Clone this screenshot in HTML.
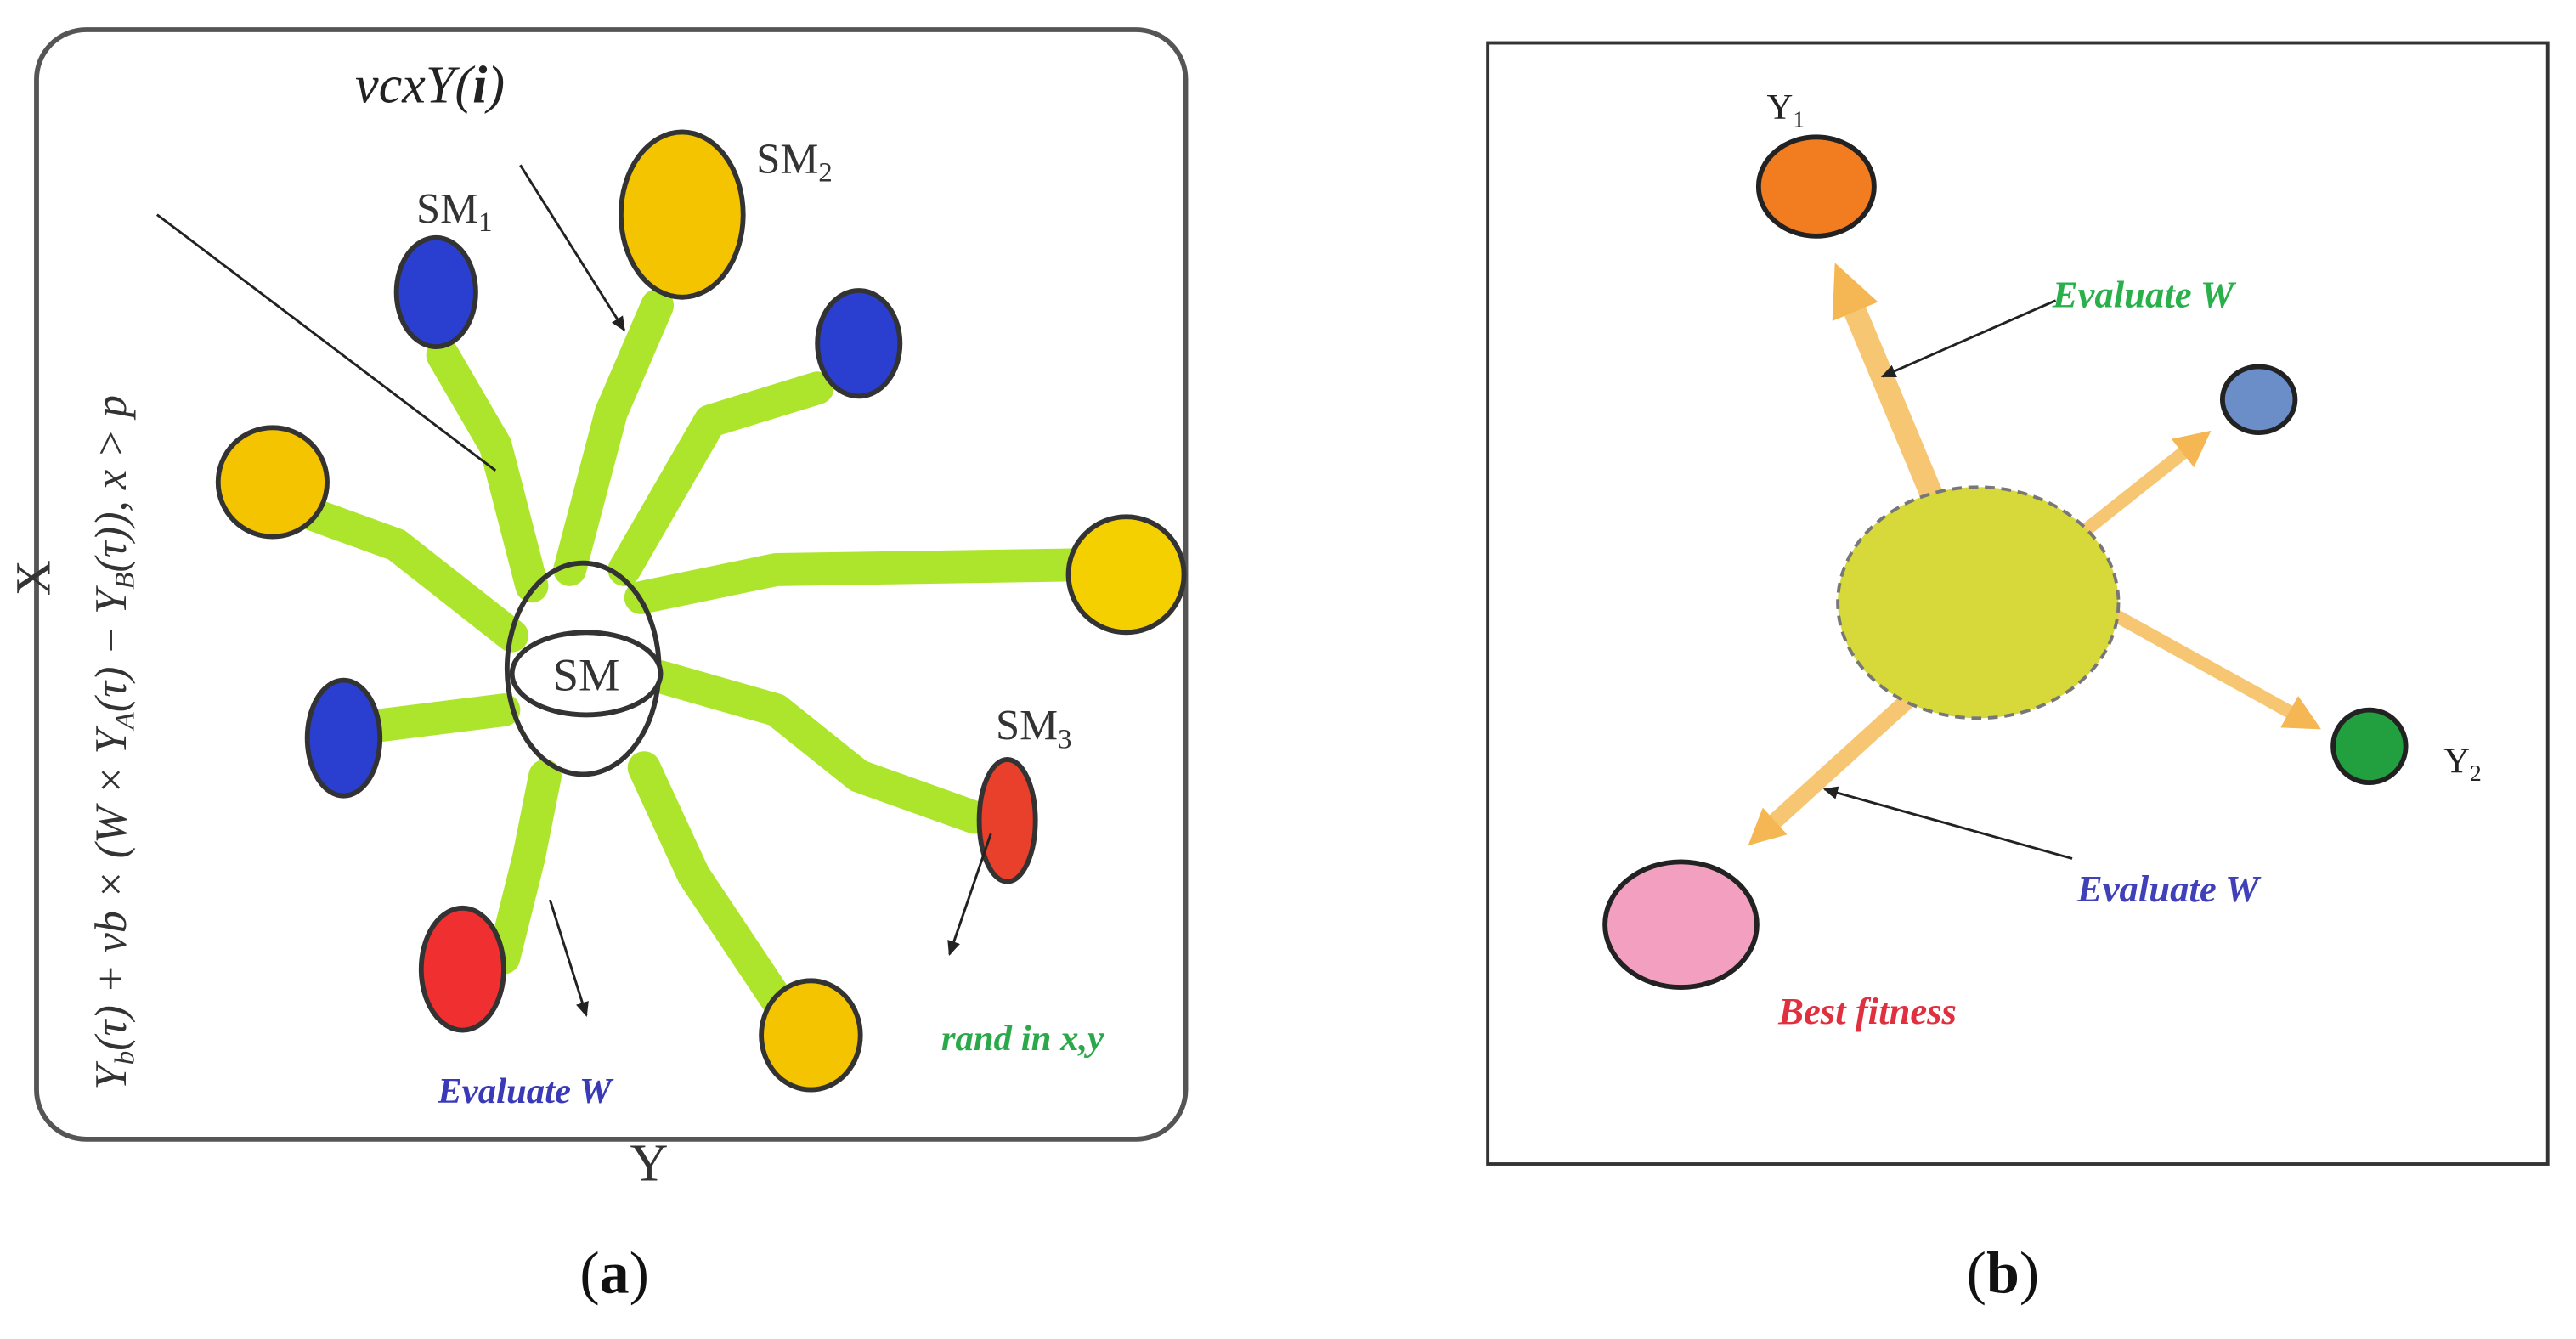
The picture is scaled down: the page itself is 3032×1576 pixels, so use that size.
<!DOCTYPE html>
<html><head><meta charset="utf-8"><style>
html,body{margin:0;padding:0;background:#fff;width:3032px;height:1576px;overflow:hidden}
svg{display:block}
text{font-family:"Liberation Serif",serif}
</style></head><body>
<svg width="3032" height="1576" viewBox="0 0 1560 811" xmlns="http://www.w3.org/2000/svg">
<defs>
<marker id="ah" markerWidth="10" markerHeight="10" refX="8" refY="5" orient="auto" markerUnits="userSpaceOnUse"><path d="M0,1 L9,5 L0,9 z" fill="#222"/></marker>
<marker id="oa" markerWidth="34" markerHeight="30" refX="4" refY="15" orient="auto" markerUnits="userSpaceOnUse"><path d="M0,0 L32,15 L0,30 z" fill="#f5b754"/></marker>
<marker id="ob" markerWidth="24" markerHeight="22" refX="4" refY="11" orient="auto" markerUnits="userSpaceOnUse"><path d="M0,0 L22,11 L0,22 z" fill="#f5b754"/></marker>
</defs>
<!-- Panel a -->
<rect x="22" y="18" width="696" height="672" rx="30" fill="#fff" stroke="#555" stroke-width="3"/>
<g stroke="#a9e422" stroke-width="20" fill="none" stroke-linecap="round" stroke-linejoin="round" opacity="0.95">
<path d="M345,345 L370,250 L398,185"/>
<path d="M322,355 L300,270 L268,215"/>
<path d="M378,345 L430,255 L495,235"/>
<path d="M388,362 L470,345 L660,342"/>
<path d="M310,385 L240,330 L185,310"/>
<path d="M305,430 L225,440"/>
<path d="M400,410 L470,430 L520,470 L590,495"/>
<path d="M330,470 L320,520 L305,580"/>
<path d="M390,465 L420,530 L470,605"/>
</g>
<ellipse cx="353" cy="405" rx="46" ry="64" fill="none" stroke="#333" stroke-width="3"/>
<ellipse cx="355" cy="408" rx="45" ry="25" fill="#fff" stroke="#333" stroke-width="3"/>
<text x="355" y="418" font-size="28" text-anchor="middle" fill="#333">SM</text>
<g stroke="#333" stroke-width="3">
<ellipse cx="413" cy="130" rx="37" ry="50" fill="#f5c400"/>
<ellipse cx="264" cy="177" rx="24" ry="33" fill="#2a3fcf"/>
<ellipse cx="520" cy="208" rx="25" ry="32" fill="#2a3fcf"/>
<ellipse cx="165" cy="292" rx="33" ry="33" fill="#f5c400"/>
<ellipse cx="682" cy="348" rx="35" ry="35" fill="#f5d000"/>
<ellipse cx="208" cy="447" rx="22" ry="35" fill="#2a3fcf"/>
<ellipse cx="610" cy="497" rx="17" ry="37" fill="#e8402a"/>
<ellipse cx="280" cy="587" rx="25" ry="37" fill="#f03030"/>
<ellipse cx="491" cy="627" rx="30" ry="33" fill="#f5c400"/>
</g>
<g stroke="#222" stroke-width="1.5" fill="none">
<line x1="315" y1="100" x2="378" y2="200" marker-end="url(#ah)"/>
<line x1="95" y1="130" x2="300" y2="285"/>
<line x1="333" y1="545" x2="355" y2="615" marker-end="url(#ah)"/>
<line x1="600" y1="505" x2="575" y2="578" marker-end="url(#ah)"/>
</g>
<text x="215" y="62" font-size="32" font-style="italic" fill="#222">vcxY(<tspan font-weight="bold">i</tspan>)</text>
<text x="252" y="135" font-size="26" fill="#333">SM<tspan font-size="17" dy="5">1</tspan></text>
<text x="458" y="105" font-size="26" fill="#333">SM<tspan font-size="17" dy="5">2</tspan></text>
<text x="603" y="448" font-size="26" fill="#333">SM<tspan font-size="17" dy="5">3</tspan></text>
<text x="265" y="668" font-size="22" font-style="italic" font-weight="bold" fill="#3a3ab8">Evaluate W</text>
<text x="570" y="636" font-size="22" font-style="italic" font-weight="bold" fill="#2aa84a">rand in x,y</text>
<text x="393" y="715" font-size="32" text-anchor="middle" fill="#333">Y</text>
<text transform="translate(30,350) rotate(-90)" font-size="30" text-anchor="middle" fill="#333">X</text>
<text transform="translate(76,660) rotate(-90)" font-size="27" font-style="italic" fill="#333">Y<tspan font-size="17" dy="5">b</tspan><tspan dy="-5">(τ) + vb × (W × Y</tspan><tspan font-size="17" dy="5">A</tspan><tspan dy="-5">(τ) − Y</tspan><tspan font-size="17" dy="5">B</tspan><tspan dy="-5">(τ)), x &gt; p</tspan></text>
<!-- Panel b -->
<rect x="901" y="26" width="642" height="679" fill="#fff" stroke="#333" stroke-width="2"/>
<g stroke="#f7c672" fill="none" stroke-linecap="butt">
<line x1="1170" y1="300" x2="1122" y2="185" stroke-width="14" marker-end="url(#oa)"/>
<line x1="1262" y1="322" x2="1325" y2="272" stroke-width="8" marker-end="url(#ob)"/>
<line x1="1280" y1="372" x2="1390" y2="433" stroke-width="8" marker-end="url(#ob)"/>
<line x1="1160" y1="420" x2="1072" y2="500" stroke-width="10" marker-end="url(#ob)"/>
</g>
<ellipse cx="1198" cy="365" rx="85" ry="70" fill="#d7d83a" stroke="#777" stroke-width="2" stroke-dasharray="6,4"/>
<g stroke="#222" stroke-width="3">
<ellipse cx="1100" cy="113" rx="35" ry="30" fill="#f27c20"/>
<ellipse cx="1368" cy="242" rx="22" ry="20" fill="#6b8ec9"/>
<ellipse cx="1435" cy="452" rx="22" ry="22" fill="#22a040"/>
<ellipse cx="1018" cy="560" rx="46" ry="38" fill="#f3a0c0"/>
</g>
<g stroke="#222" stroke-width="1.5">
<line x1="1245" y1="182" x2="1140" y2="228" marker-end="url(#ah)"/>
<line x1="1255" y1="520" x2="1105" y2="478" marker-end="url(#ah)"/>
</g>
<text x="1070" y="72" font-size="22" fill="#222">Y<tspan font-size="14" dy="5">1</tspan></text>
<text x="1480" y="468" font-size="22" fill="#222">Y<tspan font-size="14" dy="5">2</tspan></text>
<text x="1243" y="186" font-size="23" font-style="italic" font-weight="bold" fill="#2ab04a">Evaluate W</text>
<text x="1258" y="546" font-size="23" font-style="italic" font-weight="bold" fill="#4040b8">Evaluate W</text>
<text x="1077" y="620" font-size="23" font-style="italic" font-weight="bold" fill="#e03040">Best fitness</text>
<!-- captions -->
<text x="372" y="783" font-size="36" text-anchor="middle" fill="#111">(<tspan font-weight="bold">a</tspan>)</text>
<text x="1213" y="783" font-size="36" text-anchor="middle" fill="#111">(<tspan font-weight="bold">b</tspan>)</text>
</svg>
</body></html>
